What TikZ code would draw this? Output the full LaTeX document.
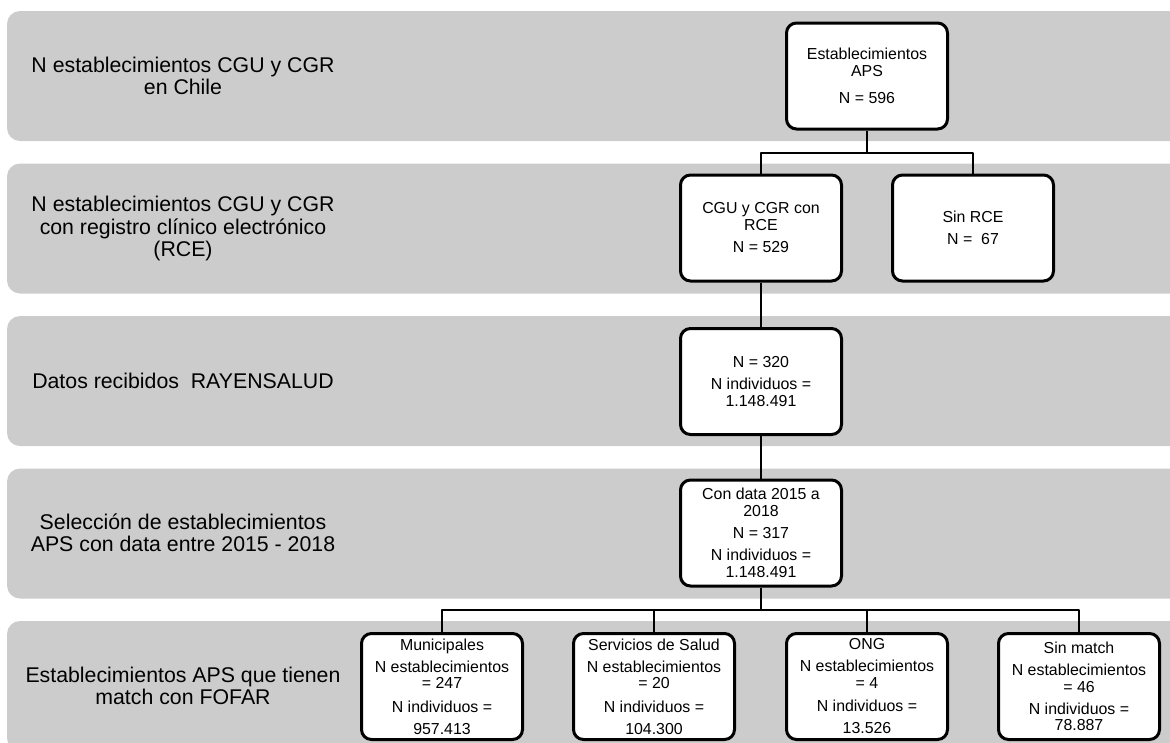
\documentclass[tikz,border=0pt]{standalone}
\usepackage{fontspec}
\setmainfont{Liberation Sans}
\definecolor{bandgray}{RGB}{204,204,204}
\begin{document}
\begin{tikzpicture}[x=1pt, y=-1pt, line join=round,
	stage/.style={align=center, font=\fontsize{21.3}{22.3}\selectfont},
	box/.style={draw, line width=3pt, rounded corners=10pt, fill=white, align=center, inner sep=0pt,
		minimum width=161pt, minimum height=106pt, font=\fontsize{15.9}{16.5}\selectfont},
	link/.style={line width=2.5pt}]
		\clip (0,0) rectangle (1170,742);
		\foreach \i in {0,...,4}\fill[bandgray, rounded corners=13pt](7,11+152.5*\i)rectangle(1200,141+152.5*\i);
		\node[stage] (chile) at (183,76) {N establecimientos CGU y CGR\\en Chile};
		\node[stage] (conrce) at (183,228.5) {N establecimientos CGU y CGR\\con registro clínico electrónico\\(RCE)};
		\node[stage] (recib) at (183,381) {Datos recibidos~ RAYENSALUD};
		\node[stage] (selec) at (183,533) {Selección de establecimientos\\APS con data entre 2015 - 2018};
		\node[stage] (fofar) at (183,686) {Establecimientos APS que tienen\\match con FOFAR};
		\node[box] (aps) at (867,76) {Establecimientos\\APS\\[11pt]N = 596};
		\node[box] (rce) at (761,228) {CGU y CGR con\\RCE\\[6pt]N = 529};
		\node[box] (sinrce) at (973,228) {Sin RCE\\[5.5pt]N =~ 67};
		\node[box] (rayen) at (761,381.5) {N = 320\\[5.5pt]N individuos =\\1.148.491};
		\node[box] (data) at (761,533) {Con data 2015 a\\2018\\[5.5pt]N = 317\\[6pt]N individuos =\\1.148.491};
		\node[box] (muni) at (442,686.5) {Municipales\\[5.5pt]N establecimientos\\= 247\\[7pt]N individuos =\\[5.5pt]957.413};
		\node[box] (salud) at (654,686.5) {Servicios de Salud\\[5.5pt]N establecimientos\\= 20\\[7pt]N individuos =\\[5.5pt]104.300};
		\node[box] (ong) at (867,686.5) {ONG\\[5.5pt]N establecimientos\\= 4\\[7pt]N individuos =\\[5.5pt]13.526};
		\node[box] (nomatch) at (1079,686.5) {Sin match\\[6pt]N establecimientos\\= 46\\[5.5pt]N individuos =\\78.887};
		\coordinate (bus1) at (867,153);
		\coordinate (bus2) at (761,610);
		\draw[link](aps.south)--(bus1);
		\draw[link](rce.north)|-(bus1)-|(sinrce.north);
		\draw[link](rce.south)--(rayen.north);
		\draw[link](rayen.south)--(data.north);
		\draw[link](data.south)--(bus2);
		\draw[link](muni.north)|-(bus2)-|(nomatch.north);
		\foreach \b in {salud,ong}\draw[link](\b.north)|-(bus2);
	\end{tikzpicture}
\end{document}
